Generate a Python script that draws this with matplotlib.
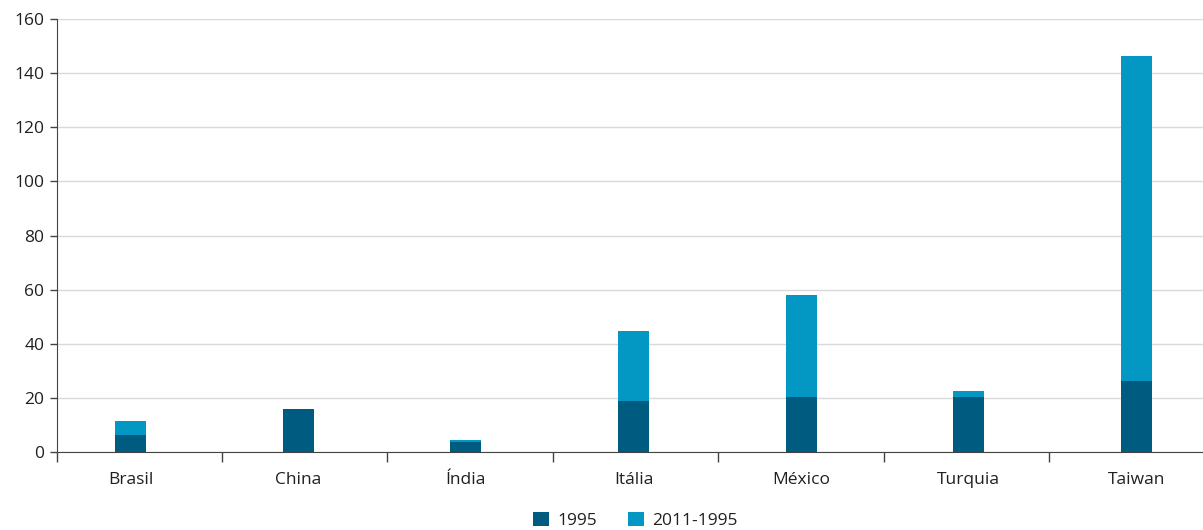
import matplotlib.pyplot as plt
import numpy as np
from matplotlib.ticker import FixedLocator

plt.rcParams['font.family'] = ['Open Sans', 'DejaVu Sans']

# valores por país
paises = ['Brasil', 'China', 'Índia', 'Itália', 'México', 'Turquia', 'Taiwan']
v1995 = [6.4, 15.9, 3.7, 18.8, 20.3, 20.3, 26.2]
v2011 = [11.5, 15.9, 4.4, 44.7, 58.0, 22.5, 146.3]
diferenca = [b - a for a, b in zip(v1995, v2011)]

cor_escura = '#005b80'
cor_clara = '#0398c4'

fig = plt.figure(figsize=(12.03, 5.30), dpi=100)
ax = fig.add_axes([0.0471, 0.147, 0.9529, 0.817])

x = np.arange(len(paises))
ax.bar(x, v1995, width=0.185, color=cor_escura, label='1995', zorder=3)
ax.bar(x, diferenca, width=0.185, bottom=v1995, color=cor_clara, label='2011-1995', zorder=3)

ax.set_xlim(-0.4415, 6.398)
ax.set_ylim(0, 160)
ax.set_yticks(range(0, 161, 20))
ax.set_xticks(x)
ax.set_xticklabels(paises)
# marcas de separação entre os países
ax.xaxis.set_minor_locator(FixedLocator(-0.4415 + 0.9869 * np.arange(7)))

ax.tick_params(axis='x', which='major', length=0, pad=14, labelsize=12.5, labelcolor='#231f20')
ax.tick_params(axis='x', which='minor', length=7, width=1, color='#444444')
ax.tick_params(axis='y', length=5, width=1, color='#444444', labelsize=12.5, labelcolor='#231f20', pad=4)

ax.grid(axis='y', color='#d9d9d9', linewidth=1, zorder=0)
for s in ['top', 'right']:
    ax.spines[s].set_visible(False)
ax.spines['left'].set_color('#444444')
ax.spines['bottom'].set_color('#444444')
ax.spines['left'].set_zorder(4)
ax.spines['bottom'].set_zorder(4)

ax.legend(loc='lower center', bbox_to_anchor=(0.505, -0.205), ncol=2, frameon=False,
          fontsize=12.5, handlelength=0.9, handleheight=0.9, handletextpad=0.5,
          columnspacing=1.8, labelcolor='#231f20', borderpad=0.2)

fig.savefig('out.png', dpi=100)
